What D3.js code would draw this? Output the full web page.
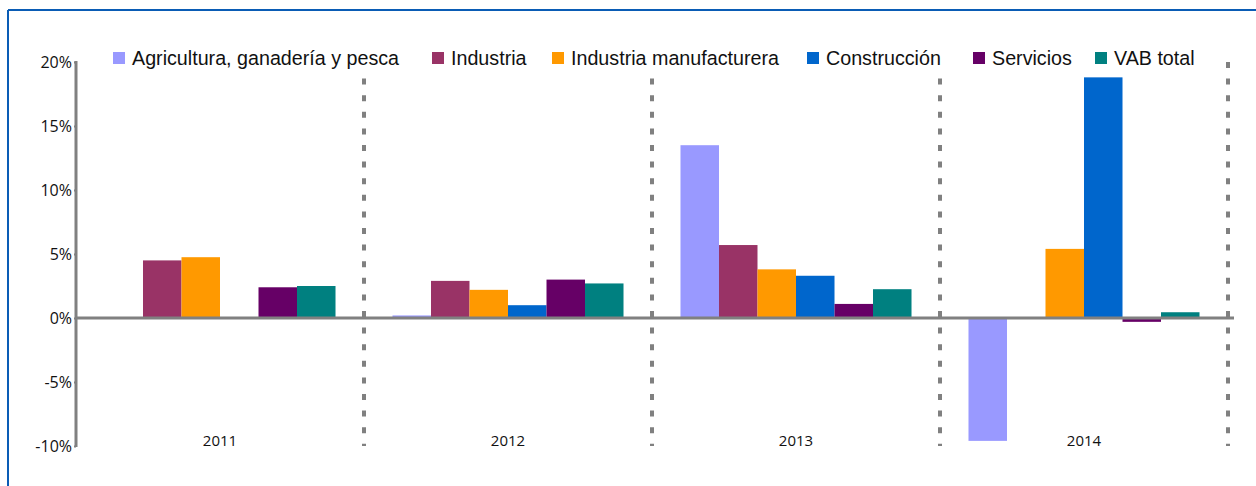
<!DOCTYPE html>
<html><head><meta charset="utf-8">
<script src="https://cdn.jsdelivr.net/npm/d3@7"></script>
<style>
body{margin:0;background:#fff;}
svg{display:block;}
</style></head>
<body>
<svg id="c" width="1256" height="486"></svg>
<script>
const years = ["2011","2012","2013","2014"];
const seriesNames = ["Agricultura, ganadería y pesca","Industria","Industria manufacturera","Construcción","Servicios","VAB total"];
const colors = ["#9999ff","#993366","#ff9900","#0066cc","#660066","#008080"];
const agricultura = [0, 0.2, 13.5, -9.6];
const industria = [4.5, 2.9, 5.7, 0];
const manufacturera = [4.75, 2.2, 3.8, 5.4];
const construccion = [0, 1.0, 3.3, 18.8];
const servicios = [2.4, 3.0, 1.1, -0.3];
const vabTotal = [2.5, 2.7, 2.25, 0.45];
const yTicks = [-10,-5,0,5,10,15,20];
const values = [agricultura, industria, manufacturera, construccion, servicios, vabTotal];

const svg = d3.select("#c");
// frame
svg.append("line").attr("x1",8).attr("x2",1256).attr("y1",10).attr("y2",10).attr("stroke","#0a5cb5").attr("stroke-width",2);
svg.append("line").attr("x1",8).attr("x2",8).attr("y1",10).attr("y2",486).attr("stroke","#0a5cb5").attr("stroke-width",2);

const left = 76, right = 1228;
const x0 = d3.scaleBand().domain(years).range([left, right]).paddingInner(0).paddingOuter(0);
const x1 = d3.scaleBand().domain(d3.range(6)).range([0, x0.bandwidth()]).paddingInner(0).paddingOuter(0.74);
const y = d3.scaleLinear().domain([-10,20]).range([446,62]);

// separators
years.slice(1).concat(["end"]).forEach((yr,i) => {
  const xx = yr === "end" ? right : x0(yr);
  svg.append("line").attr("x1",xx).attr("x2",xx).attr("y1",62).attr("y2",446)
    .attr("stroke","#808080").attr("stroke-width",4).attr("stroke-dasharray","6,10.6");
});

// legend background box (covers separators behind legend)
svg.append("rect").attr("x",105).attr("y",42).attr("width",1100).attr("height",35).attr("fill","#fff");

// bars
years.forEach((yr, gi) => {
  values.forEach((arr, si) => {
    const v = arr[gi];
    if (v === 0) return;
    svg.append("rect")
      .attr("x", x0(yr) + x1(si))
      .attr("width", x1.bandwidth())
      .attr("y", y(Math.max(0,v)))
      .attr("height", Math.abs(y(v)-y(0)))
      .attr("fill", colors[si]);
  });
});

// zero line
svg.append("line").attr("x1",left).attr("x2",1234).attr("y1",y(0)).attr("y2",y(0))
  .attr("stroke","#808080").attr("stroke-width",3);

// y axis
const yAxis = d3.axisLeft(y).tickValues(yTicks).tickSize(2).tickFormat(d => d + "%");
const ga = svg.append("g").attr("transform",`translate(${left},0)`).call(yAxis);
ga.select(".domain").attr("stroke","#808080").attr("stroke-width",3).attr("d",`M0,${y(20)-1}V${y(-10)+1}`);
ga.selectAll(".tick line").attr("stroke","#808080").attr("stroke-width",2);
ga.selectAll(".tick text").attr("font-family","'Open Sans', sans-serif").attr("font-size",16).attr("fill","#111").attr("x",-4);

// category labels
years.forEach(yr => {
  svg.append("text").attr("x", x0(yr)+x0.bandwidth()/2).attr("y",446)
    .attr("text-anchor","middle").attr("font-family","'Open Sans', sans-serif").attr("font-size",15).attr("fill","#111")
    .text(yr);
});

// legend
const legendX = [113, 432, 552, 807, 973, 1095];
seriesNames.forEach((n,i) => {
  svg.append("rect").attr("x",legendX[i]).attr("y",52).attr("width",12).attr("height",12).attr("fill",colors[i]);
  svg.append("text").attr("x",legendX[i]+19).attr("y",65).attr("font-family","'Liberation Sans', Arial, sans-serif")
    .attr("font-size",19.7).attr("fill","#111").text(n);
});
</script>
</body></html>
